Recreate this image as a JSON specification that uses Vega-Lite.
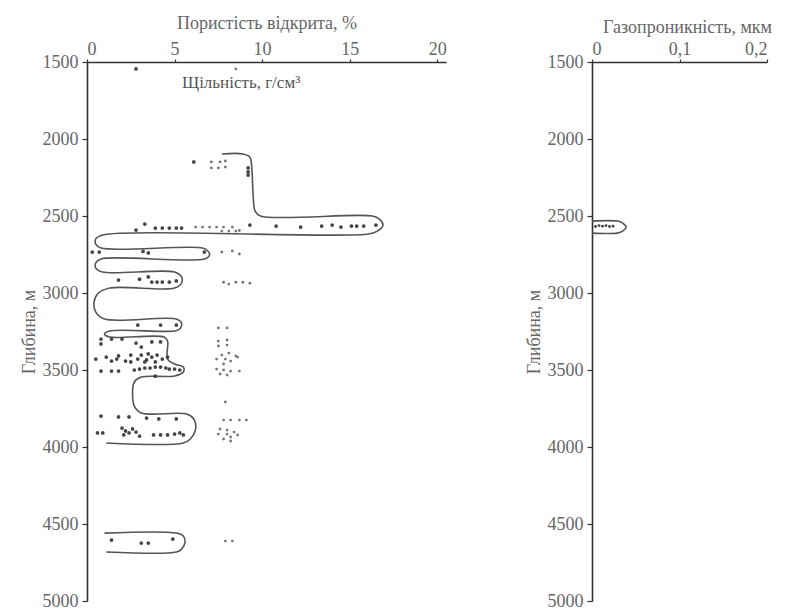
{
  "$schema": "https://vega.github.io/schema/vega-lite/v6.json",
  "background": "white",
  "padding": {"left": 20, "top": 14, "right": 0, "bottom": 0},
  "autosize": {"type": "pad"},
  "bounds": "flush",
  "spacing": 146,
  "config": {
    "view": {"stroke": null},
    "font": "Liberation Serif",
    "axis": {
      "labelFont": "Liberation Serif", "titleFont": "Liberation Serif",
      "labelFontSize": 18, "titleFontSize": 18, "titleFontWeight": "normal",
      "labelColor": "#666", "titleColor": "#666",
      "domainColor": "#333", "domainWidth": 1.6,
      "tickColor": "#333", "tickWidth": 1.2, "grid": false
    }
  },
  "datasets": {
    "env": [
      {"seg": "A", "i": 1, "value": 7.7, "depth": 2097},
      {"seg": "A", "i": 2, "value": 8.9, "depth": 2097},
      {"seg": "A", "i": 3, "value": 9.3, "depth": 2117},
      {"seg": "A", "i": 4, "value": 9.4, "depth": 2175},
      {"seg": "A", "i": 5, "value": 9.5, "depth": 2390},
      {"seg": "A", "i": 6, "value": 9.6, "depth": 2468},
      {"seg": "A", "i": 7, "value": 9.9, "depth": 2500},
      {"seg": "A", "i": 8, "value": 16.3, "depth": 2500},
      {"seg": "A", "i": 9, "value": 16.7, "depth": 2520},
      {"seg": "A", "i": 10, "value": 16.9, "depth": 2559},
      {"seg": "A", "i": 11, "value": 16.6, "depth": 2597},
      {"seg": "A", "i": 12, "value": 16.1, "depth": 2617},
      {"seg": "A", "i": 13, "value": 0.9, "depth": 2623},
      {"seg": "A", "i": 14, "value": 0.5, "depth": 2649},
      {"seg": "A", "i": 15, "value": 0.5, "depth": 2682},
      {"seg": "A", "i": 16, "value": 0.8, "depth": 2708},
      {"seg": "A", "i": 17, "value": 6.6, "depth": 2708},
      {"seg": "A", "i": 18, "value": 6.9, "depth": 2727},
      {"seg": "A", "i": 19, "value": 7.0, "depth": 2753},
      {"seg": "A", "i": 20, "value": 6.7, "depth": 2779},
      {"seg": "A", "i": 21, "value": 0.8, "depth": 2779},
      {"seg": "A", "i": 22, "value": 0.5, "depth": 2805},
      {"seg": "A", "i": 23, "value": 0.5, "depth": 2838},
      {"seg": "A", "i": 24, "value": 0.9, "depth": 2864},
      {"seg": "A", "i": 25, "value": 5.0, "depth": 2864},
      {"seg": "A", "i": 26, "value": 5.4, "depth": 2896},
      {"seg": "A", "i": 27, "value": 5.4, "depth": 2935},
      {"seg": "A", "i": 28, "value": 5.0, "depth": 2968},
      {"seg": "A", "i": 29, "value": 1.3, "depth": 2968},
      {"seg": "A", "i": 30, "value": 0.6, "depth": 3006},
      {"seg": "A", "i": 31, "value": 0.4, "depth": 3065},
      {"seg": "A", "i": 32, "value": 0.5, "depth": 3124},
      {"seg": "A", "i": 33, "value": 1.0, "depth": 3169},
      {"seg": "A", "i": 34, "value": 5.1, "depth": 3169},
      {"seg": "A", "i": 35, "value": 5.4, "depth": 3195},
      {"seg": "A", "i": 36, "value": 5.3, "depth": 3234},
      {"seg": "A", "i": 37, "value": 5.0, "depth": 3247},
      {"seg": "A", "i": 38, "value": 1.3, "depth": 3247},
      {"seg": "A", "i": 39, "value": 1.0, "depth": 3267},
      {"seg": "A", "i": 40, "value": 1.3, "depth": 3286},
      {"seg": "A", "i": 41, "value": 4.4, "depth": 3286},
      {"seg": "A", "i": 42, "value": 4.6, "depth": 3312},
      {"seg": "A", "i": 43, "value": 4.6, "depth": 3429},
      {"seg": "A", "i": 44, "value": 5.0, "depth": 3461},
      {"seg": "A", "i": 45, "value": 5.5, "depth": 3481},
      {"seg": "A", "i": 46, "value": 5.5, "depth": 3513},
      {"seg": "A", "i": 47, "value": 5.0, "depth": 3539},
      {"seg": "A", "i": 48, "value": 3.1, "depth": 3546},
      {"seg": "A", "i": 49, "value": 2.7, "depth": 3578},
      {"seg": "A", "i": 50, "value": 2.6, "depth": 3656},
      {"seg": "A", "i": 51, "value": 2.7, "depth": 3734},
      {"seg": "A", "i": 52, "value": 3.1, "depth": 3779},
      {"seg": "A", "i": 53, "value": 5.7, "depth": 3786},
      {"seg": "A", "i": 54, "value": 6.1, "depth": 3818},
      {"seg": "A", "i": 55, "value": 6.2, "depth": 3883},
      {"seg": "A", "i": 56, "value": 5.9, "depth": 3948},
      {"seg": "A", "i": 57, "value": 5.5, "depth": 3974},
      {"seg": "A", "i": 58, "value": 1.1, "depth": 3974},
      {"seg": "B", "i": 1, "value": 1.0, "depth": 4559},
      {"seg": "B", "i": 2, "value": 5.1, "depth": 4559},
      {"seg": "B", "i": 3, "value": 5.5, "depth": 4578},
      {"seg": "B", "i": 4, "value": 5.6, "depth": 4617},
      {"seg": "B", "i": 5, "value": 5.4, "depth": 4663},
      {"seg": "B", "i": 6, "value": 5.1, "depth": 4682},
      {"seg": "B", "i": 7, "value": 1.1, "depth": 4682}
    ],
    "por": [
      {"value": 2.8, "depth": 1545},
      {"value": 6.1, "depth": 2149},
      {"value": 9.2, "depth": 2188}, {"value": 9.2, "depth": 2214}, {"value": 9.2, "depth": 2234},
      {"value": 2.8, "depth": 2591}, {"value": 3.3, "depth": 2552},
      {"value": 3.9, "depth": 2578}, {"value": 4.3, "depth": 2578}, {"value": 4.7, "depth": 2578}, {"value": 5.1, "depth": 2578}, {"value": 5.4, "depth": 2578},
      {"value": 9.3, "depth": 2559}, {"value": 10.8, "depth": 2565}, {"value": 12.2, "depth": 2572}, {"value": 13.4, "depth": 2565},
      {"value": 14.0, "depth": 2559}, {"value": 14.5, "depth": 2572}, {"value": 15.1, "depth": 2565}, {"value": 15.4, "depth": 2565},
      {"value": 15.8, "depth": 2565}, {"value": 16.5, "depth": 2559},
      {"value": 0.3, "depth": 2734}, {"value": 0.7, "depth": 2734}, {"value": 3.2, "depth": 2730}, {"value": 3.5, "depth": 2740}, {"value": 6.7, "depth": 2734},
      {"value": 1.8, "depth": 2916}, {"value": 3.0, "depth": 2910}, {"value": 3.5, "depth": 2896},
      {"value": 3.7, "depth": 2929}, {"value": 4.0, "depth": 2929}, {"value": 4.3, "depth": 2929}, {"value": 4.7, "depth": 2929}, {"value": 5.1, "depth": 2922},
      {"value": 2.9, "depth": 3208}, {"value": 4.2, "depth": 3208}, {"value": 5.1, "depth": 3208},
      {"value": 0.8, "depth": 3299}, {"value": 1.4, "depth": 3299}, {"value": 2.0, "depth": 3299}, {"value": 0.8, "depth": 3331},
      {"value": 2.8, "depth": 3325}, {"value": 3.1, "depth": 3351}, {"value": 3.7, "depth": 3318}, {"value": 4.2, "depth": 3318},
      {"value": 0.5, "depth": 3429}, {"value": 1.1, "depth": 3416}, {"value": 1.4, "depth": 3442}, {"value": 1.8, "depth": 3409},
      {"value": 2.2, "depth": 3442}, {"value": 2.5, "depth": 3403}, {"value": 2.9, "depth": 3429}, {"value": 3.1, "depth": 3403},
      {"value": 3.4, "depth": 3435}, {"value": 3.7, "depth": 3416}, {"value": 4.0, "depth": 3403}, {"value": 4.3, "depth": 3429},
      {"value": 4.6, "depth": 3416}, {"value": 3.9, "depth": 3448}, {"value": 3.3, "depth": 3448}, {"value": 2.5, "depth": 3448},
      {"value": 1.7, "depth": 3429}, {"value": 3.5, "depth": 3396},
      {"value": 0.8, "depth": 3507}, {"value": 1.4, "depth": 3507}, {"value": 1.8, "depth": 3507},
      {"value": 2.7, "depth": 3500}, {"value": 3.0, "depth": 3494}, {"value": 3.3, "depth": 3487}, {"value": 3.6, "depth": 3487},
      {"value": 3.9, "depth": 3481}, {"value": 4.2, "depth": 3481}, {"value": 4.5, "depth": 3487}, {"value": 4.7, "depth": 3494},
      {"value": 5.0, "depth": 3494}, {"value": 5.3, "depth": 3500}, {"value": 3.9, "depth": 3540},
      {"value": 0.8, "depth": 3799}, {"value": 1.8, "depth": 3805}, {"value": 2.4, "depth": 3805}, {"value": 3.4, "depth": 3812},
      {"value": 4.1, "depth": 3818}, {"value": 5.1, "depth": 3818},
      {"value": 0.6, "depth": 3909}, {"value": 0.9, "depth": 3909}, {"value": 2.0, "depth": 3877}, {"value": 2.2, "depth": 3896},
      {"value": 2.4, "depth": 3909}, {"value": 2.1, "depth": 3922}, {"value": 2.6, "depth": 3883}, {"value": 2.8, "depth": 3903},
      {"value": 3.0, "depth": 3929}, {"value": 3.8, "depth": 3922}, {"value": 4.2, "depth": 3922}, {"value": 4.6, "depth": 3922},
      {"value": 5.0, "depth": 3916}, {"value": 5.3, "depth": 3909}, {"value": 5.5, "depth": 3922},
      {"value": 1.4, "depth": 4604}, {"value": 3.1, "depth": 4624}, {"value": 3.5, "depth": 4624}, {"value": 4.9, "depth": 4598}
    ],
    "den": [
      {"value": 8.5, "depth": 1545},
      {"value": 7.1, "depth": 2149}, {"value": 7.6, "depth": 2149}, {"value": 7.9, "depth": 2143},
      {"value": 7.1, "depth": 2188}, {"value": 7.5, "depth": 2188}, {"value": 7.9, "depth": 2182},
      {"value": 6.2, "depth": 2572}, {"value": 6.6, "depth": 2572}, {"value": 7.0, "depth": 2572}, {"value": 7.4, "depth": 2572},
      {"value": 7.8, "depth": 2572}, {"value": 8.3, "depth": 2572},
      {"value": 7.7, "depth": 2598}, {"value": 8.1, "depth": 2598}, {"value": 8.5, "depth": 2598}, {"value": 8.7, "depth": 2594},
      {"value": 7.7, "depth": 2734}, {"value": 8.3, "depth": 2727}, {"value": 8.7, "depth": 2747},
      {"value": 7.8, "depth": 2930}, {"value": 8.1, "depth": 2942}, {"value": 8.5, "depth": 2930}, {"value": 8.9, "depth": 2930}, {"value": 9.3, "depth": 2936},
      {"value": 7.5, "depth": 3227}, {"value": 8.0, "depth": 3227},
      {"value": 7.5, "depth": 3312}, {"value": 8.0, "depth": 3305}, {"value": 7.5, "depth": 3344}, {"value": 8.0, "depth": 3338},
      {"value": 7.7, "depth": 3403}, {"value": 8.1, "depth": 3390}, {"value": 8.5, "depth": 3409}, {"value": 7.4, "depth": 3429},
      {"value": 7.9, "depth": 3429}, {"value": 8.2, "depth": 3442}, {"value": 8.6, "depth": 3416}, {"value": 7.8, "depth": 3461},
      {"value": 7.4, "depth": 3494}, {"value": 7.8, "depth": 3500}, {"value": 8.2, "depth": 3507}, {"value": 8.7, "depth": 3507},
      {"value": 7.6, "depth": 3526}, {"value": 8.0, "depth": 3533},
      {"value": 7.9, "depth": 3708},
      {"value": 7.8, "depth": 3825}, {"value": 8.2, "depth": 3825}, {"value": 8.7, "depth": 3825}, {"value": 9.1, "depth": 3825},
      {"value": 7.6, "depth": 3883}, {"value": 8.0, "depth": 3890}, {"value": 8.4, "depth": 3903}, {"value": 7.5, "depth": 3916},
      {"value": 8.0, "depth": 3916}, {"value": 8.6, "depth": 3922}, {"value": 7.8, "depth": 3948}, {"value": 8.2, "depth": 3935},
      {"value": 8.2, "depth": 3961},
      {"value": 7.9, "depth": 4611}, {"value": 8.3, "depth": 4611}
    ],
    "lab": [
      {"value": 8.8, "depth": 1635, "text": "Щільність, г/см³"}
    ],
    "permenv": [
      {"i": 1, "value": 0.0, "depth": 2533},
      {"i": 2, "value": 0.029, "depth": 2533},
      {"i": 3, "value": 0.035, "depth": 2546},
      {"i": 4, "value": 0.039, "depth": 2572},
      {"i": 5, "value": 0.035, "depth": 2598},
      {"i": 6, "value": 0.029, "depth": 2611},
      {"i": 7, "value": 0.0, "depth": 2611}
    ],
    "perm": [
      {"value": 0.004, "depth": 2568}, {"value": 0.008, "depth": 2562}, {"value": 0.012, "depth": 2566},
      {"value": 0.016, "depth": 2562}, {"value": 0.020, "depth": 2568}, {"value": 0.024, "depth": 2566}
    ]
  },
  "hconcat": [
    {
      "width": 359,
      "height": 539,
      "encoding": {
        "x": {
          "field": "value", "type": "quantitative",
          "scale": {"domain": [0, 20.5], "nice": false, "zero": false},
          "axis": {"orient": "top", "values": [0, 5, 10, 15, 20], "title": "Пористість відкрита, %",
                   "tickSize": 3, "labelPadding": 1, "titlePadding": 8}
        },
        "y": {
          "field": "depth", "type": "quantitative",
          "scale": {"domain": [1500, 5000], "reverse": true, "nice": false, "zero": false},
          "axis": {"values": [1500, 2000, 2500, 3000, 3500, 4000, 4500, 5000], "format": "d",
                   "title": "Глибина, м", "tickSize": 5, "labelPadding": 4, "titlePadding": 4}
        }
      },
      "layer": [
        {
          "data": {"name": "env"},
          "mark": {"type": "line", "interpolate": "catmull-rom", "stroke": "#555", "strokeWidth": 1.6},
          "encoding": {"order": {"field": "i", "type": "quantitative"}, "detail": {"field": "seg", "type": "nominal"}}
        },
        {
          "data": {"name": "den"},
          "mark": {"type": "point", "filled": true, "size": 8, "color": "#777", "opacity": 1}
        },
        {
          "data": {"name": "por"},
          "mark": {"type": "point", "filled": true, "size": 14, "color": "#444", "opacity": 1}
        },
        {
          "data": {"name": "lab"},
          "mark": {"type": "text", "font": "Liberation Serif", "fontSize": 17, "color": "#555", "align": "center", "baseline": "middle"},
          "encoding": {"text": {"field": "text", "type": "nominal"}}
        }
      ]
    },
    {
      "width": 175,
      "height": 539,
      "encoding": {
        "x": {
          "field": "value", "type": "quantitative",
          "scale": {"domain": [0, 0.2], "nice": false, "zero": false},
          "axis": {"orient": "top", "values": [0, 0.1, 0.2], "title": "Газопроникність, мкм",
                   "labelExpr": "replace(format(datum.value, '~g'), '.', ',')",
                   "titleX": 95,
                   "tickSize": 3, "labelPadding": 1, "titlePadding": 4}
        },
        "y": {
          "field": "depth", "type": "quantitative",
          "scale": {"domain": [1500, 5000], "reverse": true, "nice": false, "zero": false},
          "axis": {"values": [1500, 2000, 2500, 3000, 3500, 4000, 4500, 5000], "format": "d",
                   "title": "Глибина, м", "tickSize": 5, "labelPadding": 4, "titlePadding": 4}
        }
      },
      "layer": [
        {
          "data": {"name": "permenv"},
          "mark": {"type": "line", "interpolate": "catmull-rom", "stroke": "#555", "strokeWidth": 1.6},
          "encoding": {"order": {"field": "i", "type": "quantitative"}}
        },
        {
          "data": {"name": "perm"},
          "mark": {"type": "point", "filled": true, "size": 8, "color": "#444", "opacity": 1}
        }
      ]
    }
  ]
}
